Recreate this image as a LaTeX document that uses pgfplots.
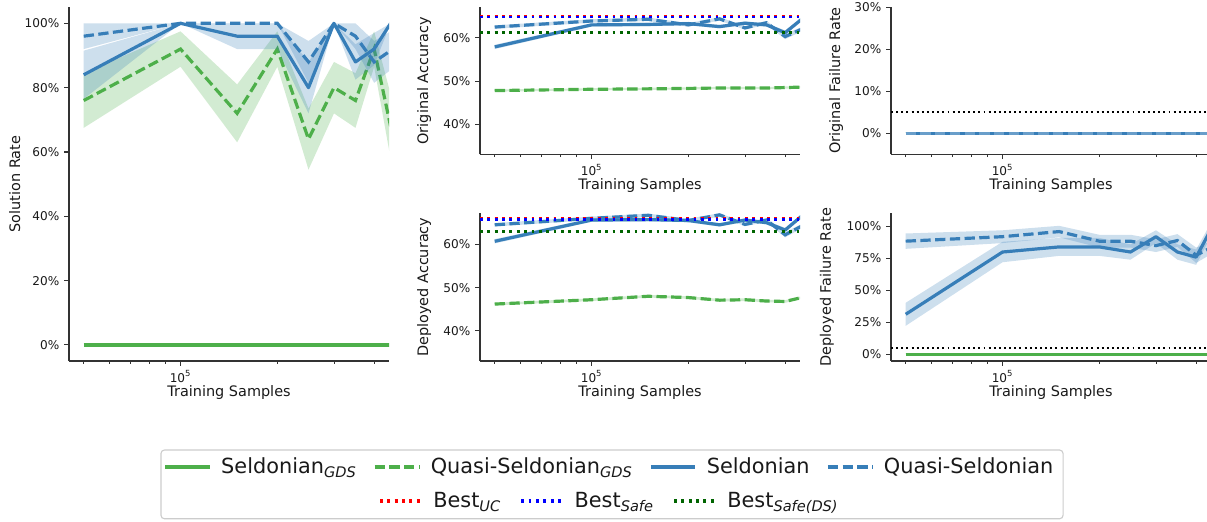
\documentclass[border=0pt]{standalone}
\usepackage{fontspec}
\setmainfont{DejaVu Sans}
\usepackage{pgfplots}
\pgfplotsset{compat=1.18}
\usepackage{pgfplotstable}

\definecolor{cblue}{HTML}{377EB8}
\definecolor{cgreen}{HTML}{4DAF4A}
\definecolor{dgreen}{HTML}{006400}

% ---------------- data: mean lines (x, y) ----------------
\pgfplotstableread{
x y
5e4 84
1e5 100
1.5e5 96
2e5 96
2.5e5 80
3e5 100
3.5e5 88
4e5 92
4.5e5 100
}\solS
\pgfplotstableread{
x y
5e4 96
1e5 100
1.5e5 100
2e5 100
2.5e5 88
3e5 100
3.5e5 96
4e5 88
4.5e5 91.5
}\solQ
\pgfplotstableread{
x y
5e4 76
1e5 92
1.5e5 72
2e5 92
2.5e5 64
3e5 80
3.5e5 76
4e5 92
4.5e5 68
}\solGQ
\pgfplotstableread{
x y
5e4 0
1e5 0
1.5e5 0
2e5 0
2.5e5 0
3e5 0
3.5e5 0
4e5 0
4.5e5 0
}\zerotab
\pgfplotstableread{
x y
5e4 57.9
1e5 63.0
1.5e5 63.1
2e5 63.3
2.5e5 62.6
3e5 63.4
3.5e5 63.0
4e5 61.2
4.5e5 64.3
}\oaS
\pgfplotstableread{
x y
5e4 62.5
1e5 63.9
1.5e5 64.3
2e5 63.0
2.5e5 64.4
3e5 62.3
3.5e5 63.5
4e5 60.3
4.5e5 62.0
}\oaQ
\pgfplotstableread{
x y
5e4 47.8
1e5 48.1
1.5e5 48.2
2e5 48.3
2.5e5 48.4
3e5 48.4
3.5e5 48.4
4e5 48.5
4.5e5 48.6
}\oaGQ
\pgfplotstableread{
x y
5e4 60.7
1e5 65.6
1.5e5 65.7
2e5 65.5
2.5e5 64.5
3e5 65.6
3.5e5 65.0
4e5 63.3
4.5e5 66.5
}\daS
\pgfplotstableread{
x y
5e4 64.5
1e5 66.0
1.5e5 66.7
2e5 65.5
2.5e5 66.8
3e5 64.6
3.5e5 65.6
4e5 62.2
4.5e5 64.2
}\daQ
\pgfplotstableread{
x y
5e4 46.2
1e5 47.2
1.5e5 48.0
2e5 47.7
2.5e5 47.1
3e5 47.2
3.5e5 46.9
4e5 46.8
4.5e5 47.7
}\daGQ
\pgfplotstableread{
x y
5e4 31.3
1e5 80
1.5e5 84
2e5 84
2.5e5 80
3e5 92
3.5e5 80
4e5 76
4.5e5 100
}\dfS
\pgfplotstableread{
x y
5e4 88.5
1e5 92
1.5e5 96
2e5 88.5
2.5e5 88.5
3e5 85
3.5e5 89
4e5 77.5
4.5e5 84
}\dfQ

% ---------------- data: uncertainty bands (upper forward, lower back) ----------------
\pgfplotstableread{
x y
5e4 91.5
1e5 100
1.5e5 100
2e5 100
2.5e5 88
3e5 100
3.5e5 93.5
4e5 97
4.5e5 100
4.5e5 100
4e5 87
3.5e5 82.5
3e5 100
2.5e5 72
2e5 92
1.5e5 92
1e5 100
5e4 76.5
}\bsolS
\pgfplotstableread{
x y
5e4 100
1e5 100
1.5e5 100
2e5 100
2.5e5 94.5
3e5 100
3.5e5 100
4e5 94.5
4.5e5 97.5
4.5e5 85.5
4e5 81.5
3.5e5 92
3e5 100
2.5e5 81.5
2e5 100
1.5e5 100
1e5 100
5e4 92
}\bsolQ
\pgfplotstableread{
x y
5e4 84.5
1e5 97.5
1.5e5 81
2e5 97.5
2.5e5 73.5
3e5 88
3.5e5 84.5
4e5 97.5
4.5e5 78
4.5e5 58
4e5 86.5
3.5e5 67.5
3e5 72
2.5e5 54.5
2e5 86.5
1.5e5 63
1e5 86.5
5e4 67.5
}\bsolGQ
\pgfplotstableread{
x y
5e4 58.4
1e5 63.4
1.5e5 63.5
2e5 63.7
2.5e5 63.0
3e5 63.8
3.5e5 63.4
4e5 61.7
4.5e5 64.8
4.5e5 63.8
4e5 60.7
3.5e5 62.6
3e5 63.0
2.5e5 62.2
2e5 62.9
1.5e5 62.7
1e5 62.6
5e4 57.4
}\boaS
\pgfplotstableread{
x y
5e4 62.9
1e5 64.3
1.5e5 64.7
2e5 63.4
2.5e5 64.8
3e5 62.7
3.5e5 63.9
4e5 60.9
4.5e5 62.5
4.5e5 61.5
4e5 59.7
3.5e5 63.1
3e5 61.9
2.5e5 64.0
2e5 62.6
1.5e5 63.9
1e5 63.5
5e4 62.1
}\boaQ
\pgfplotstableread{
x y
5e4 48.05
1e5 48.35
1.5e5 48.45
2e5 48.55
2.5e5 48.65
3e5 48.65
3.5e5 48.65
4e5 48.75
4.5e5 48.85
4.5e5 48.35
4e5 48.25
3.5e5 48.15
3e5 48.15
2.5e5 48.15
2e5 48.05
1.5e5 47.95
1e5 47.85
5e4 47.55
}\boaGQ
\pgfplotstableread{
x y
5e4 61.2
1e5 66.0
1.5e5 66.1
2e5 65.9
2.5e5 64.9
3e5 66.0
3.5e5 65.4
4e5 63.8
4.5e5 67.0
4.5e5 66.0
4e5 62.8
3.5e5 64.6
3e5 65.2
2.5e5 64.1
2e5 65.1
1.5e5 65.3
1e5 65.2
5e4 60.2
}\bdaS
\pgfplotstableread{
x y
5e4 64.9
1e5 66.4
1.5e5 67.1
2e5 65.9
2.5e5 67.2
3e5 65.0
3.5e5 66.0
4e5 62.8
4.5e5 64.7
4.5e5 63.7
4e5 61.6
3.5e5 65.2
3e5 64.2
2.5e5 66.4
2e5 65.1
1.5e5 66.3
1e5 65.6
5e4 64.1
}\bdaQ
\pgfplotstableread{
x y
5e4 46.5
1e5 47.5
1.5e5 48.3
2e5 48.0
2.5e5 47.4
3e5 47.5
3.5e5 47.2
4e5 47.1
4.5e5 48.0
4.5e5 47.4
4e5 46.5
3.5e5 46.6
3e5 46.9
2.5e5 46.8
2e5 47.4
1.5e5 47.7
1e5 46.9
5e4 45.9
}\bdaGQ
\pgfplotstableread{
x y
5e4 40.3
1e5 88
1.5e5 91
2e5 91
2.5e5 86
3e5 97
3.5e5 86
4e5 82
4.5e5 105
4.5e5 95
4e5 70
3.5e5 74
3e5 87
2.5e5 74
2e5 77
1.5e5 77
1e5 72
5e4 22.3
}\bdfS
\pgfplotstableread{
x y
5e4 94.5
1e5 97
1.5e5 100.5
2e5 93.5
2.5e5 93.5
3e5 90
3.5e5 94
4e5 83.5
4.5e5 89
4.5e5 79
4e5 71.5
3.5e5 84
3e5 80
2.5e5 83.5
2e5 83.5
1.5e5 91.5
1e5 87
5e4 82.5
}\bdfQ

\tikzset{
  lgs/.style={draw=cgreen, line width=2.3pt, line join=round},
  lgq/.style={draw=cgreen, line width=2.3pt, dash pattern=on 7.4pt off 3.2pt},
  lbs/.style={draw=cblue, line width=2.3pt, line join=round},
  lbq/.style={draw=cblue, line width=2.3pt, dash pattern=on 7.4pt off 3.2pt},
  lbestuc/.style={draw=red, line width=2pt, dash pattern=on 2pt off 3.3pt},
  lbestsafe/.style={draw=blue, line width=2pt, dash pattern=on 2pt off 3.3pt},
  lbestds/.style={draw=dgreen, line width=2pt, dash pattern=on 2pt off 3.3pt},
  lthr/.style={draw=black, line width=1.4pt, dash pattern=on 1.4pt off 2.3pt},
  bandg/.style={fill=cgreen, fill opacity=0.25, draw=none},
  bandb/.style={fill=cblue, fill opacity=0.25, draw=none},
}

\begin{document}
\begin{tikzpicture}

% ---------- Solution rate ----------
\begin{axis}[scale only axis, width=230.4pt, height=254.7pt,
  at={(49.68pt,115.2pt)}, anchor=south west,
  xmode=log, xmin=4.5e4, xmax=4.45e5,
  ymin=-5, ymax=105, ytick={0,20,40,60,80,100},
  axis x line*=bottom, axis y line*=left,
  axis line style={-, line width=0.8pt, black!80},
  tick align=outside, major tick length=3.5pt, minor tick length=2pt,
  major tick style={line width=0.8pt, black!80},
  minor tick style={line width=0.6pt, black!80},
  xtick={1e5}, xticklabels={10\textsuperscript{5}},
  minor xtick={5e4,6e4,7e4,8e4,9e4,2e5,3e5,4e5},
  yticklabel={\pgfmathprintnumber[fixed,precision=0,assume math mode=true]{\tick}\%},
  tick label style={font=\fontsize{8.7}{10}\selectfont, text=black!90},
  label style={font=\fontsize{10.4}{12}\selectfont, text=black!90},
  xlabel={Training Samples},
  xlabel style={at={(axis description cs:0.5,0)}, anchor=north, inner sep=0pt, yshift=-17.5pt},
  ylabel={Solution Rate},
  ylabel style={at={(axis description cs:-0.1526,0.5)}, anchor=base, inner sep=0pt}]
  \addplot[lgs] table[x=x,y=y] {\zerotab};
  \addplot[bandg, forget plot] table[x=x,y=y] {\bsolGQ};
  \addplot[lgq] table[x=x,y=y] {\solGQ};
  \addplot[bandb, forget plot] table[x=x,y=y] {\bsolS};
  \addplot[lbs] table[x=x,y=y] {\solS};
  \addplot[bandb, forget plot] table[x=x,y=y] {\bsolQ};
  \addplot[lbq] table[x=x,y=y] {\solQ};
\end{axis}

% ---------- Original accuracy ----------
\begin{axis}[scale only axis, width=230.4pt, height=105.8pt,
  at={(345.6pt,264.0pt)}, anchor=south west,
  xmode=log, xmin=4.5e4, xmax=4.45e5,
  ymin=33.05, ymax=67.05, ytick={40,50,60},
  axis x line*=bottom, axis y line*=left,
  axis line style={-, line width=0.8pt, black!80},
  tick align=outside, major tick length=3.5pt, minor tick length=2pt,
  major tick style={line width=0.8pt, black!80},
  minor tick style={line width=0.6pt, black!80},
  xtick={1e5}, xticklabels={10\textsuperscript{5}},
  minor xtick={5e4,6e4,7e4,8e4,9e4,2e5,3e5,4e5},
  yticklabel={\pgfmathprintnumber[fixed,precision=0,assume math mode=true]{\tick}\%},
  tick label style={font=\fontsize{8.7}{10}\selectfont, text=black!90},
  label style={font=\fontsize{10.4}{12}\selectfont, text=black!90},
  xlabel={Training Samples},
  xlabel style={at={(axis description cs:0.5,0)}, anchor=north, inner sep=0pt, yshift=-17.5pt},
  ylabel={Original Accuracy},
  ylabel style={at={(axis description cs:-0.162,0.5)}, anchor=base, inner sep=0pt}]
  \addplot[bandg, forget plot] table[x=x,y=y] {\boaGQ};
  \addplot[lgq] table[x=x,y=y] {\oaGQ};
  \addplot[bandb, forget plot] table[x=x,y=y] {\boaS};
  \addplot[lbs] table[x=x,y=y] {\oaS};
  \addplot[bandb, forget plot] table[x=x,y=y] {\boaQ};
  \addplot[lbq] table[x=x,y=y] {\oaQ};
  \addplot[lbestuc] coordinates {(4.5e4,64.95) (4.45e5,64.95)};
  \addplot[lbestsafe] coordinates {(4.5e4,64.85) (4.45e5,64.85)};
  \addplot[lbestds] coordinates {(4.5e4,61.3) (4.45e5,61.3)};
\end{axis}

% ---------- Deployed accuracy ----------
\begin{axis}[scale only axis, width=230.4pt, height=106.3pt,
  at={(345.6pt,115.2pt)}, anchor=south west,
  xmode=log, xmin=4.5e4, xmax=4.45e5,
  ymin=33.05, ymax=67.15, ytick={40,50,60},
  axis x line*=bottom, axis y line*=left,
  axis line style={-, line width=0.8pt, black!80},
  tick align=outside, major tick length=3.5pt, minor tick length=2pt,
  major tick style={line width=0.8pt, black!80},
  minor tick style={line width=0.6pt, black!80},
  xtick={1e5}, xticklabels={10\textsuperscript{5}},
  minor xtick={5e4,6e4,7e4,8e4,9e4,2e5,3e5,4e5},
  yticklabel={\pgfmathprintnumber[fixed,precision=0,assume math mode=true]{\tick}\%},
  tick label style={font=\fontsize{8.7}{10}\selectfont, text=black!90},
  label style={font=\fontsize{10.4}{12}\selectfont, text=black!90},
  xlabel={Training Samples},
  xlabel style={at={(axis description cs:0.5,0)}, anchor=north, inner sep=0pt, yshift=-17.5pt},
  ylabel={Deployed Accuracy},
  ylabel style={at={(axis description cs:-0.162,0.5)}, anchor=base, inner sep=0pt}]
  \addplot[bandg, forget plot] table[x=x,y=y] {\bdaGQ};
  \addplot[lgq] table[x=x,y=y] {\daGQ};
  \addplot[bandb, forget plot] table[x=x,y=y] {\bdaS};
  \addplot[lbs] table[x=x,y=y] {\daS};
  \addplot[bandb, forget plot] table[x=x,y=y] {\bdaQ};
  \addplot[lbq] table[x=x,y=y] {\daQ};
  \addplot[lbestuc] coordinates {(4.5e4,65.9) (4.45e5,65.9)};
  \addplot[lbestsafe] coordinates {(4.5e4,65.8) (4.45e5,65.8)};
  \addplot[lbestds] coordinates {(4.5e4,62.9) (4.45e5,62.9)};
\end{axis}

% ---------- Original failure rate ----------
\begin{axis}[scale only axis, width=230.4pt, height=106.3pt,
  at={(641.5pt,264.0pt)}, anchor=south west,
  xmode=log, xmin=4.5e4, xmax=4.45e5,
  ymin=-5, ymax=30.2, ytick={0,10,20,30},
  axis x line*=bottom, axis y line*=left,
  axis line style={-, line width=0.8pt, black!80},
  tick align=outside, major tick length=3.5pt, minor tick length=2pt,
  major tick style={line width=0.8pt, black!80},
  minor tick style={line width=0.6pt, black!80},
  xtick={1e5}, xticklabels={10\textsuperscript{5}},
  minor xtick={5e4,6e4,7e4,8e4,9e4,2e5,3e5,4e5},
  yticklabel={\pgfmathprintnumber[fixed,precision=0,assume math mode=true]{\tick}\%},
  tick label style={font=\fontsize{8.7}{10}\selectfont, text=black!90},
  label style={font=\fontsize{10.4}{12}\selectfont, text=black!90},
  xlabel={Training Samples},
  xlabel style={at={(axis description cs:0.5,0)}, anchor=north, inner sep=0pt, yshift=-17.5pt},
  ylabel={Original Failure Rate},
  ylabel style={at={(axis description cs:-0.159,0.5)}, anchor=base, inner sep=0pt}]
  \addplot[lthr] coordinates {(4.5e4,5) (4.45e5,5)};
  \addplot[lgs] table[x=x,y=y] {\zerotab};
  \addplot[lgq] table[x=x,y=y] {\zerotab};
  \addplot[lbs] table[x=x,y=y] {\zerotab};
  \addplot[lbq, draw=cblue!75] table[x=x,y=y] {\zerotab};
\end{axis}

% ---------- Deployed failure rate ----------
\begin{axis}[scale only axis, width=230.4pt, height=106.3pt,
  at={(641.5pt,115.2pt)}, anchor=south west,
  xmode=log, xmin=4.5e4, xmax=4.45e5,
  ymin=-5.25, ymax=110.25, ytick={0,25,50,75,100},
  axis x line*=bottom, axis y line*=left,
  axis line style={-, line width=0.8pt, black!80},
  tick align=outside, major tick length=3.5pt, minor tick length=2pt,
  major tick style={line width=0.8pt, black!80},
  minor tick style={line width=0.6pt, black!80},
  xtick={1e5}, xticklabels={10\textsuperscript{5}},
  minor xtick={5e4,6e4,7e4,8e4,9e4,2e5,3e5,4e5},
  yticklabel={\pgfmathprintnumber[fixed,precision=0,assume math mode=true]{\tick}\%},
  tick label style={font=\fontsize{8.7}{10}\selectfont, text=black!90},
  label style={font=\fontsize{10.4}{12}\selectfont, text=black!90},
  xlabel={Training Samples},
  xlabel style={at={(axis description cs:0.5,0)}, anchor=north, inner sep=0pt, yshift=-17.5pt},
  ylabel={Deployed Failure Rate},
  ylabel style={at={(axis description cs:-0.188,0.5)}, anchor=base, inner sep=0pt}]
  \addplot[lthr] coordinates {(4.5e4,5) (4.45e5,5)};
  \addplot[lgq] table[x=x,y=y] {\zerotab};
  \addplot[lgs] table[x=x,y=y] {\zerotab};
  \addplot[bandb, forget plot] table[x=x,y=y] {\bdfS};
  \addplot[lbs] table[x=x,y=y] {\dfS};
  \addplot[bandb, forget plot] table[x=x,y=y] {\bdfQ};
  \addplot[lbq] table[x=x,y=y] {\dfQ};
\end{axis}

% ---------- Legend frame ----------
\draw[black!20, line width=0.8pt, rounded corners=2.5pt] (115.9pt,51.1pt) rectangle (765.4pt,1.6pt);

% ---------- Legend row 1 ----------
\begin{axis}[at={(0pt,0pt)}, anchor=south west, scale only axis, width=869.04pt, height=375.12pt,
  hide axis, xmin=0, xmax=1, ymin=0, ymax=1,
  legend image code/.code={\draw[#1] (0pt,0pt) -- (32pt,0pt);},
  legend style={at={(0.5058,0.1036)}, anchor=center, draw=none, fill=none,
    font=\fontsize{15}{18}\selectfont, text=black!90, legend columns=4,
    /tikz/every odd column/.append style={column sep=4.3pt},
    /tikz/every even column/.append style={column sep=9pt},
    inner sep=0pt, nodes={inner sep=3pt}}]
  \addlegendimage{lgs, line width=2.2pt}
  \addlegendentry{Seldonian\textsubscript{\itshape GDS}}
  \addlegendimage{lgq, line width=2.2pt}
  \addlegendentry{Quasi-Seldonian\textsubscript{\itshape GDS}}
  \addlegendimage{lbs, line width=2.2pt}
  \addlegendentry{Seldonian}
  \addlegendimage{lbq, line width=2.2pt}
  \addlegendentry{Quasi-Seldonian}
\end{axis}

% ---------- Legend row 2 ----------
\begin{axis}[at={(0pt,0pt)}, anchor=south west, scale only axis, width=869.04pt, height=375.12pt,
  hide axis, xmin=0, xmax=1, ymin=0, ymax=1,
  legend image code/.code={\draw[#1] (0pt,0pt) -- (30pt,0pt);},
  legend style={at={(0.5058,0.0384)}, anchor=center, draw=none, fill=none,
    font=\fontsize{15}{18}\selectfont, text=black!90, legend columns=3,
    /tikz/every odd column/.append style={column sep=4.3pt},
    /tikz/every even column/.append style={column sep=10.5pt},
    inner sep=0pt, nodes={inner sep=3pt}}]
  \addlegendimage{lbestuc, line width=2.2pt}
  \addlegendentry{Best\textsubscript{\itshape UC}}
  \addlegendimage{lbestsafe, line width=2.2pt}
  \addlegendentry{Best\textsubscript{\itshape Safe}}
  \addlegendimage{lbestds, line width=2.2pt}
  \addlegendentry{Best\textsubscript{\itshape Safe(DS)}}
\end{axis}

\pgfresetboundingbox
\path[use as bounding box] (0pt,0pt) rectangle (869.04pt,375.12pt);
\end{tikzpicture}
\end{document}
